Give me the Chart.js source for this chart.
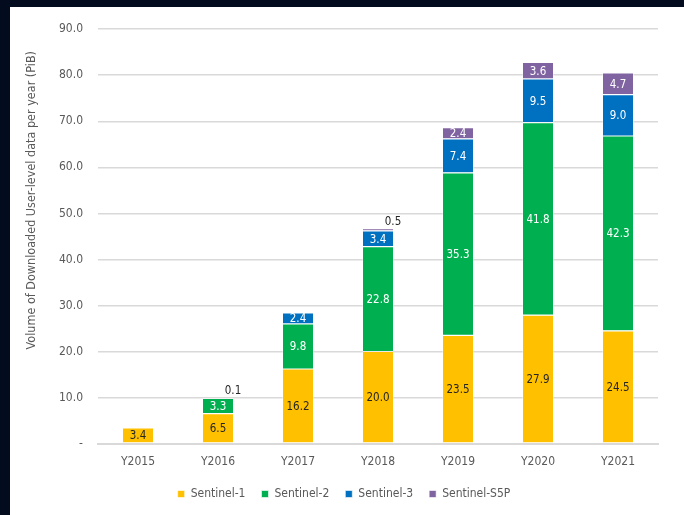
<!DOCTYPE html>
<html>
<head>
<meta charset="utf-8">
<script src="https://cdn.jsdelivr.net/npm/chart.js@4.4.1/dist/chart.umd.min.js"></script>
<style>
  html, body { margin: 0; padding: 0; background: #020c1e; }
  #wrap { position: absolute; left: 10px; top: 7px; width: 674px; height: 508px; background: #fff; }
</style>
</head>
<body>
<div id="wrap"><canvas id="chartOne"></canvas></div>
<script>
const years = ["Y2015", "Y2016", "Y2017", "Y2018", "Y2019", "Y2020", "Y2021"];
const sentinel1 = [3.4, 6.5, 16.2, 20.0, 23.5, 27.9, 24.5];
const sentinel2 = [null, 3.3, 9.8, 22.8, 35.3, 41.8, 42.3];
const sentinel3 = [null, 0.1, 2.4, 3.4, 7.4, 9.5, 9.0];
const sentinel5p = [null, null, null, 0.5, 2.4, 3.6, 4.7];
const yTitle = 'Volume of Downloaded User-level data per year (PiB)';

const fontName = "'DejaVu Sans Condensed', 'Liberation Sans Narrow', 'DejaVu Sans', sans-serif";

// draws the value labels like excel does: inside the segment, small ones above
const valueLabels = {
    id: 'valueLabels',
    afterDatasetsDraw(chart) {
        const ctx = chart.ctx;
        ctx.save();
        ctx.font = "11.5px " + fontName;
        ctx.textAlign = 'center';
        ctx.textBaseline = 'middle';
        chart.data.datasets.forEach((ds, i) => {
            const meta = chart.getDatasetMeta(i);
            meta.data.forEach((bar, j) => {
                const v = ds.data[j];
                if (v == null) return;
                const txt = v.toFixed(1);
                if (v < 1) {
                    ctx.fillStyle = '#262626';
                    ctx.fillText(txt, bar.x + 15, bar.y - 7);
                } else {
                    ctx.fillStyle = ds.labelColor;
                    ctx.fillText(txt, bar.x, (bar.y + bar.base) / 2 + 1);
                }
            });
        });
        ctx.restore();
    }
};

// axis title sits a bit above the middle in the original
const axisTitle = {
    id: 'axisTitle',
    afterDraw(chart) {
        const ctx = chart.ctx;
        const area = chart.chartArea;
        ctx.save();
        ctx.translate(area.left - 66, area.top + 171);
        ctx.rotate(-Math.PI / 2);
        ctx.font = "12.5px " + fontName;
        ctx.fillStyle = '#595959';
        ctx.textAlign = 'center';
        ctx.textBaseline = 'middle';
        ctx.fillText(yTitle, 0, 0);
        ctx.restore();
    }
};

const chartOne = document.getElementById("chartOne");
let s1Chart = new Chart(chartOne, {
    type: 'bar',
    data: {
        labels: years,
        datasets: [{
            label: 'Sentinel-1',
            data: sentinel1,
            backgroundColor: '#ffc000',
            labelColor: '#262626'
        }, {
            label: 'Sentinel-2',
            data: sentinel2,
            backgroundColor: '#00b050',
            labelColor: '#ffffff'
        }, {
            label: 'Sentinel-3',
            data: sentinel3,
            backgroundColor: '#0070c0',
            labelColor: '#ffffff'
        }, {
            label: 'Sentinel-S5P',
            data: sentinel5p,
            backgroundColor: '#8064a2',
            labelColor: '#ffffff'
        }]
    },
    options: {
        responsive: true,
        maintainAspectRatio: false,
        animation: false,
        datasets: {
            bar: {
                barPercentage: 0.39,
                categoryPercentage: 1,
                borderColor: '#ffffff',
                borderWidth: 0.6,
                borderSkipped: false
            }
        },
        layout: { padding: { left: 20, right: 26, top: 9, bottom: 5 } },
        scales: {
            x: {
                stacked: true,
                grid: { display: false },
                border: { color: '#d9d9d9', width: 2 },
                ticks: { color: '#595959', font: { family: fontName, size: 12 }, padding: 3 }
            },
            y: {
                stacked: true,
                min: 0,
                max: 90,
                afterFit: (scale) => { scale.width = 68; },
                grid: { color: '#d9d9d9', lineWidth: 1.5, drawTicks: false },
                border: { display: false },
                ticks: {
                    stepSize: 10,
                    color: '#595959',
                    padding: 15,
                    font: { family: fontName, size: 12 },
                    callback: (v) => v === 0 ? '-' : v.toFixed(1)
                }
            }
        },
        plugins: {
            legend: {
                position: 'bottom',
                labels: {
                    color: '#595959',
                    font: { family: fontName, size: 12 },
                    boxWidth: 7,
                    boxHeight: 7,
                    padding: 16
                }
            },
            tooltip: { enabled: false }
        }
    },
    plugins: [valueLabels, axisTitle]
});
</script>
</body>
</html>
